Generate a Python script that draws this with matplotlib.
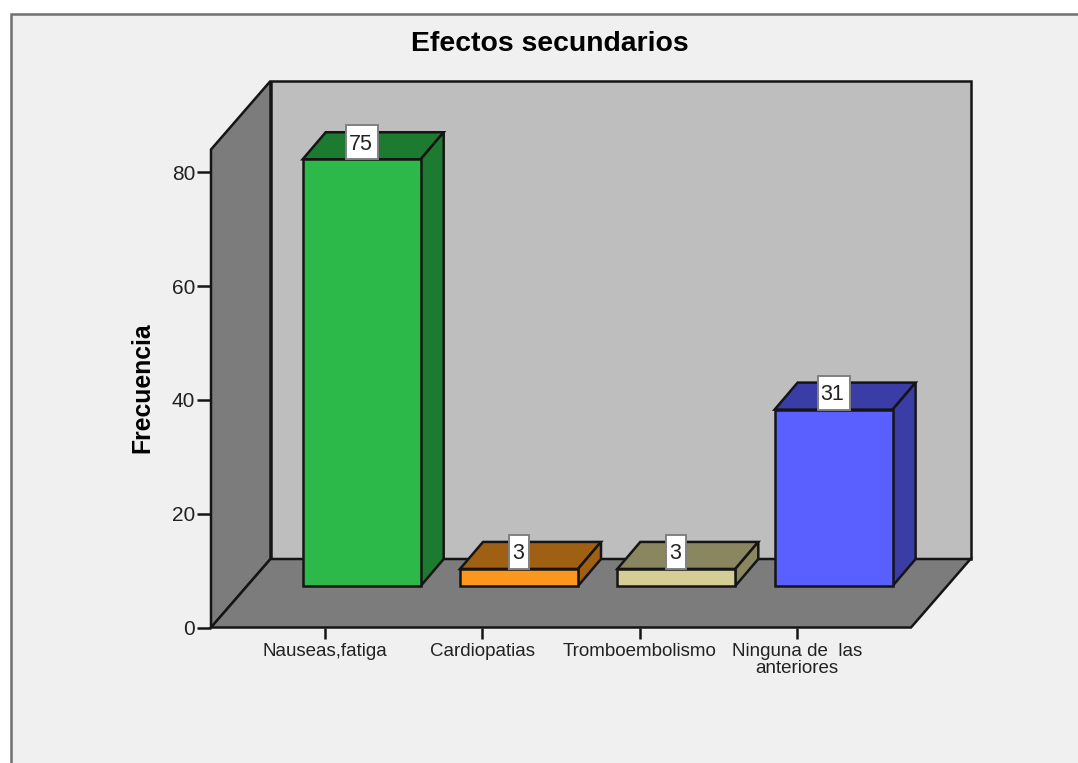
import matplotlib
matplotlib.use("Agg")
import matplotlib.pyplot as plt
from matplotlib.patches import Polygon, Rectangle

categories = ["Nauseas,fatiga", "Cardiopatias", "Tromboembolismo", "Ninguna de  las\nanteriores"]
frequencies = [75, 3, 3, 31]
front_colors = ["#2db84a", "#fb971d", "#d4cd95", "#5a60ff"]
shade_colors = ["#1d7a31", "#a06014", "#8a8660", "#393da5"]

W, H = 1078, 763
PX_X = 157.3          # pixels per category
PX_Y = 5.69           # pixels per frequency unit
LEFT, RIGHT, BOTTOM, TOP = 211, 911, 627.5, 149.5

plt.rcParams["font.family"] = ["Liberation Sans", "DejaVu Sans"]
fig = plt.figure(figsize=(W / 100, H / 100), dpi=100, facecolor="white")
fig.add_artist(Rectangle((10.5 / W, -0.1), 1.1, 1.1 - 14 / H, transform=fig.transFigure,
                         facecolor="#f0f0f0", edgecolor="#707070", linewidth=1.8, zorder=-1))

ax = fig.add_axes([LEFT / W, 1 - BOTTOM / H, (RIGHT - LEFT) / W, (BOTTOM - TOP) / H])
ax.patch.set_visible(False)
ax.set_xlim((LEFT - 325) / PX_X, (RIGHT - 325) / PX_X)
ax.set_ylim(0, (BOTTOM - TOP) / PX_Y)
for spine in ax.spines.values():
    spine.set_visible(False)

x0, x1 = ax.get_xlim()
y_top = ax.get_ylim()[1]
room_dx, room_dy = 59.5 / PX_X, 68.5 / PX_Y  # depth of the whole chart box
bar_dx, bar_dy = 23 / PX_X, 27 / PX_Y        # depth of one bar
off_dx, off_dy = 36.7 / PX_X, 41.5 / PX_Y    # front face of a bar behind the front edge
bar_w = 118 / PX_X
ink = "#151515"


def face(points, color, z, lw=1.8):
    ax.add_patch(Polygon(points, closed=True, facecolor=color, edgecolor=ink,
                         linewidth=lw, joinstyle="miter", clip_on=False, zorder=z))


# Back wall, side wall and floor
face([(x0 + room_dx, room_dy), (x1 + room_dx, room_dy),
      (x1 + room_dx, y_top + room_dy), (x0 + room_dx, y_top + room_dy)], "#bebebe", 1)
face([(x0, 0), (x0 + room_dx, room_dy), (x0 + room_dx, y_top + room_dy), (x0, y_top)], "#7c7c7c", 1)
face([(x0, 0), (x1, 0), (x1 + room_dx, room_dy), (x0 + room_dx, room_dy)], "#7c7c7c", 1)

# Bars with their value flags
for i, (value, front, shade) in enumerate(zip(frequencies, front_colors, shade_colors)):
    xl = i + off_dx - bar_w / 2
    xr = i + off_dx + bar_w / 2
    yb = off_dy
    yt = off_dy + value
    face([(xl, yt), (xr, yt), (xr + bar_dx, yt + bar_dy), (xl + bar_dx, yt + bar_dy)], shade, 3)
    face([(xr, yb), (xr + bar_dx, yb + bar_dy), (xr + bar_dx, yt + bar_dy), (xr, yt)], shade, 3)
    face([(xl, yb), (xr, yb), (xr, yt), (xl, yt)], front, 4)

    label = str(value)
    box_w = (8 + 12 * len(label)) / PX_X
    box_h = 34 / PX_Y
    cx = i + off_dx
    ax.add_patch(Rectangle((cx - box_w / 2, yt), box_w, box_h, facecolor="white",
                           edgecolor="#808080", linewidth=1.4, clip_on=False, zorder=5))
    ax.text(cx - 1.2 / PX_X, yt + box_h * 0.44, label, ha="center", va="center", fontsize=15.5,
            color="#222222", zorder=6)

# Axes ticks and labels
ax.set_xticks(range(len(categories)))
ax.set_xticklabels(categories, fontsize=13.5, color="#222222", linespacing=1.0)
ax.set_yticks([0, 20, 40, 60, 80])
ax.tick_params(axis="x", length=8, width=1.8, color=ink, pad=3.5)
ax.tick_params(axis="y", length=10, width=1.8, color=ink, pad=1.5, labelsize=15, labelcolor="#222222")

ax.set_ylabel("Frecuencia", fontsize=17.8, fontweight="bold", color="black")
ax.yaxis.set_label_coords((154 - LEFT) / (RIGHT - LEFT), (BOTTOM - 388) / (BOTTOM - TOP))

fig.text(550 / W, 1 - 44 / H, "Efectos secundarios", ha="center", va="center",
         fontsize=20.4, fontweight="bold", color="black")

fig.savefig("out.png", dpi=100, facecolor=fig.get_facecolor())
